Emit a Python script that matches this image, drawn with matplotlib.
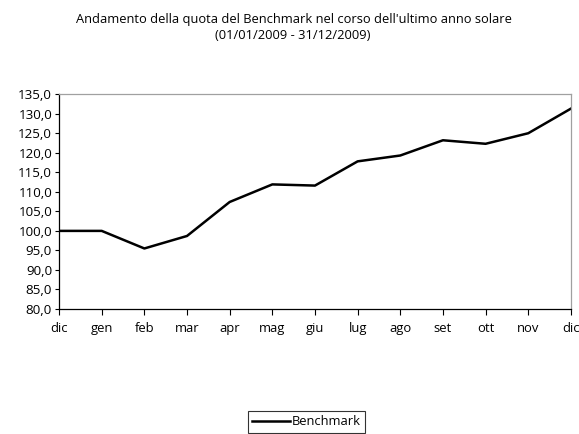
import matplotlib
matplotlib.use("Agg")
import matplotlib.pyplot as plt
from matplotlib.ticker import FuncFormatter

plt.rcParams['font.family'] = ['Open Sans', 'DejaVu Sans']

months = ['dic', 'gen', 'feb', 'mar', 'apr', 'mag', 'giu', 'lug', 'ago', 'set', 'ott', 'nov', 'dic']
benchmark = [100.0, 100.0, 95.5, 98.7, 107.4, 111.9, 111.6, 117.8, 119.3, 123.2, 122.3, 125.0, 131.3]
yticks = [80, 85, 90, 95, 100, 105, 110, 115, 120, 125, 130, 135]

fig = plt.figure(figsize=(5.79, 4.34), dpi=100)
ax = fig.add_axes([0.102, 0.288, 0.884, 0.495])

x = list(range(len(months)))
ax.plot(x, benchmark, color='black', lw=1.8, label='Benchmark')

ax.set_xlim(0, len(months) - 1)
ax.set_ylim(80, 135)
ax.set_xticks(x)
ax.set_xticklabels(months, fontsize=9.4)
ax.set_yticks(yticks)
ax.yaxis.set_major_formatter(FuncFormatter(lambda v, p: f"{v:.1f}".replace('.', ',')))
ax.tick_params(axis='y', labelsize=9.6, length=3, width=0.8, pad=2)
ax.tick_params(axis='x', length=4, width=0.8, pad=5)

ax.spines['top'].set_color('#a0a0a0')
ax.spines['right'].set_color('#a0a0a0')
ax.spines['left'].set_color('black')
ax.spines['bottom'].set_color('black')
for s in ax.spines.values():
    s.set_linewidth(0.9)

fig.text(0.508, 0.955, "Andamento della quota del Benchmark nel corso dell'ultimo anno solare",
         ha='center', va='center', fontsize=9.3)
fig.text(0.506, 0.918, "(01/01/2009 - 31/12/2009)", ha='center', va='center', fontsize=9.3)

leg = fig.legend(loc='center', bbox_to_anchor=(0.529, 0.028), fontsize=9.3, frameon=True,
                 fancybox=False, handlelength=2.9, handletextpad=0.15, borderpad=0.35,
                 borderaxespad=0)
leg.get_frame().set_edgecolor('black')
leg.get_frame().set_linewidth(0.8)

fig.savefig('out.png', dpi=100)
